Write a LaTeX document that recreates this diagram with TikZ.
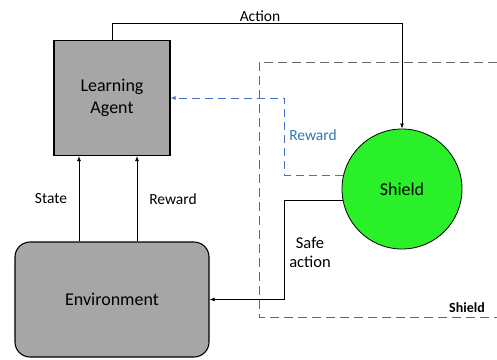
\documentclass[tikz,border=0pt]{standalone}
\usepackage{fontspec}
\setmainfont{Carlito}
\usetikzlibrary{arrows.meta,positioning}

\definecolor{boxgray}{RGB}{166,166,166}
\definecolor{shieldgreen}{RGB}{42,240,42}
\definecolor{rewardblue}{RGB}{68,114,196}
\definecolor{labelblue}{RGB}{46,117,182}

\begin{document}
\begin{tikzpicture}[x=1pt,y=-1pt,font=\fontsize{15.5}{17}\selectfont,
  block/.style={draw,line width=1.1pt,fill=boxgray,align=center,inner sep=0pt,font=\fontsize{18}{21}\selectfont},
  flow/.style={line width=0.9pt,-{Latex[length=5pt,width=4pt]}},
  bluedash/.style={rewardblue,line width=1pt,dash pattern=on 8pt off 5pt,-{Latex[length=5pt,width=4pt]}},
  zone/.style={gray!80!black,line width=1pt,dash pattern=on 9pt off 5pt}]

\useasboundingbox (0,0) rectangle (497,359);

% shield zone
\draw [zone] (497,62) -- (259,62) -- (259,317) -- (497,317);
\node [font=\fontsize{14}{16}\selectfont\bfseries] (zonelabel) at (467,308) {Shield};

% main blocks
\node [block,minimum width=116,minimum height=115] (agent) at (112,98) {Learning\\[1pt]Agent};
\node [block,minimum width=194,minimum height=115,rounded corners=15] (env) at (112,299.5) {Environment};
\node [circle,draw,line width=0.8pt,fill=shieldgreen,minimum size=120,inner sep=0pt,font=\fontsize{18}{21}\selectfont] (shield) at (402,189) {Shield};

% connections
\draw [flow] (agent.north) -- ++(0,-17) coordinate (act) -| (shield.north);
\node (actlabel) at (260,16) {Action};

\draw [bluedash] (shield.167) -- ++(-59,0) |- (agent.east);
\node [text=labelblue] (rewlabel) at (313,135) {Reward};

\draw [flow] (shield.191) -- ++(-58,0) |- (env.east);
\node [align=center,font=\fontsize{16.5}{19}\selectfont] (safelabel) at (310,252) {Safe\\action};

\draw [flow] ([xshift=-33]env.north) -- ([xshift=-33]agent.south);
\draw [flow] ([xshift=25]env.north) -- ([xshift=25]agent.south);
\node (statelabel) at (51,199) {State};
\node (rewardlabel) at (173,199) {Reward};

\end{tikzpicture}
\end{document}
